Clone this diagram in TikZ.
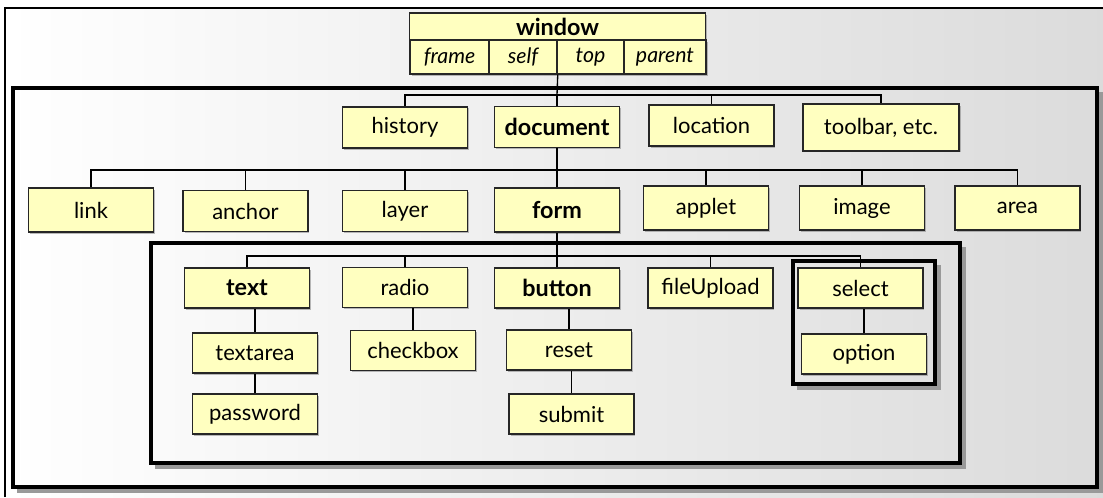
\documentclass[tikz,border=0pt]{standalone}
\usepackage{fontspec}
\setmainfont{Lato}
\usetikzlibrary{shadows}

\definecolor{boxfill}{RGB}{255,255,192}

\tikzset{
	box/.style={draw=black!85, line width=1.1pt, fill=boxfill, inner sep=0pt,
		minimum width=93.5pt, minimum height=31pt, font=\fontsize{16.5}{18}\selectfont,
		drop shadow={shadow xshift=1.2pt, shadow yshift=-1.2pt, fill=black!45, opacity=.6}},
	bbox/.style={box, font=\fontsize{17.5}{19}\selectfont\bfseries},
	cell/.style={box, minimum height=25.5pt, font=\fontsize{16}{18}\selectfont\itshape},
	frame/.style={line width=2.7pt},
	frameshadow/.style={line width=3pt, draw=black!40},
	wire/.style={line width=1pt}
}

% thick frame with its shadow on the bottom and right
\newcommand{\frameat}[4]{%
	\draw[frameshadow] (#1+4,#4+4) -- (#3+4,#4+4) -- (#3+4,#2+4);
	\draw[frame] (#1,#2) rectangle (#3,#4);}

\begin{document}
\begin{tikzpicture}[x=0.75pt,y=0.75pt,yscale=-1,xscale=1]
	\useasboundingbox (0,0) rectangle (1103,497);
	% background
	\shade[left color=white, middle color=white, right color=black!14] (5,8) rectangle (1103,497);
	\draw[line width=1.4pt] (5,497) -- (5,8) -- (1103,8);
	% frames
	\frameat{13}{88}{1097}{487}
	\frameat{151}{243}{960}{463}
	\frameat{793}{261}{935}{384}
	% window
	\node[bbox, minimum width=222pt, minimum height=20.25pt] (window) at (557.5,26.5) {window};
	\node[cell, minimum width=59.25pt] (wframe) at (449.5,57) {frame};
	\node[cell, minimum width=51pt] (wself) at (523,57) {self};
	\node[cell, minimum width=50.25pt] (wtop) at (590.5,57) {top};
	\node[cell, minimum width=61.5pt] (wparent) at (665,57) {parent};
	% row 1
	\node[box] (history) at (405,127.5) {history};
	\node[bbox] (document) at (557,127) {document};
	\node[box] (location) at (711.5,125.5) {location};
	\node[box, minimum width=117pt, minimum height=35pt] (toolbar) at (881,127.5) {toolbar, etc.};
	% row 2
	\node[box, minimum height=33pt] (link) at (91,210) {link};
	\node[box] (anchor) at (245.5,211) {anchor};
	\node[box] (layer) at (405,211) {layer};
	\node[bbox, minimum height=33pt] (form) at (557,210) {form};
	\node[box, minimum height=33pt] (applet) at (706,208) {applet};
	\node[box, minimum height=33pt] (image) at (862,208) {image};
	\node[box, minimum height=33pt] (area) at (1017.5,208) {area};
	% row 3
	\node[bbox, minimum height=30pt] (text) at (247,288) {text};
	\node[box, minimum height=30pt] (radio) at (405,287.5) {radio};
	\node[bbox, minimum height=30pt] (button) at (557,288) {button};
	\node[box, minimum height=30pt] (fileupload) at (710.5,288) {fileUpload};
	\node[box, minimum height=30pt] (select) at (860.5,288) {select};
	% row 4
	\node[box, minimum height=30pt] (textarea) at (255,353) {textarea};
	\node[box, minimum height=30pt] (checkbox) at (413,350.5) {checkbox};
	\node[box, minimum height=30pt] (reset) at (569,350) {reset};
	\node[box, minimum height=30pt] (option) at (864,354) {option};
	% row 5
	\node[box, minimum height=30pt] (password) at (255,414) {password};
	\node[box, minimum height=30pt] (submit) at (571.5,414) {submit};
	% connectors
	\coordinate (bus1) at (557,95);
	\coordinate (bus2) at (557,170);
	\coordinate (bus3) at (557,256);
	\draw[wire] (wself.south east) -- (bus1);
	\draw[wire] (history.north) |- (bus1) -| (toolbar.north);
	\foreach \n in {document,location}
		\draw[wire] (\n.north) -- (\n.north |- bus1);
	\draw[wire] (document.south) -- (bus2);
	\draw[wire] (link.north) |- (bus2) -| (area.north);
	\foreach \n in {anchor,layer,form,applet,image}
		\draw[wire] (\n.north) -- (\n.north |- bus2);
	\draw[wire] (form.south) -- (bus3);
	\draw[wire] (text.north) |- (bus3) -| (select.north);
	\foreach \n in {radio,button,fileupload}
		\draw[wire] (\n.north) -- (\n.north |- bus3);
	\draw[wire] (textarea.north) -- (textarea.north |- text.south);
	\draw[wire] (password.north) -- (textarea.south);
	\draw[wire] (checkbox.north) -- (checkbox.north |- radio.south);
	\draw[wire] (reset.north) -- (reset.north |- button.south);
	\draw[wire] (submit.north) -- (submit.north |- reset.south);
	\draw[wire] (option.north) -- (option.north |- select.south);
\end{tikzpicture}
\end{document}
